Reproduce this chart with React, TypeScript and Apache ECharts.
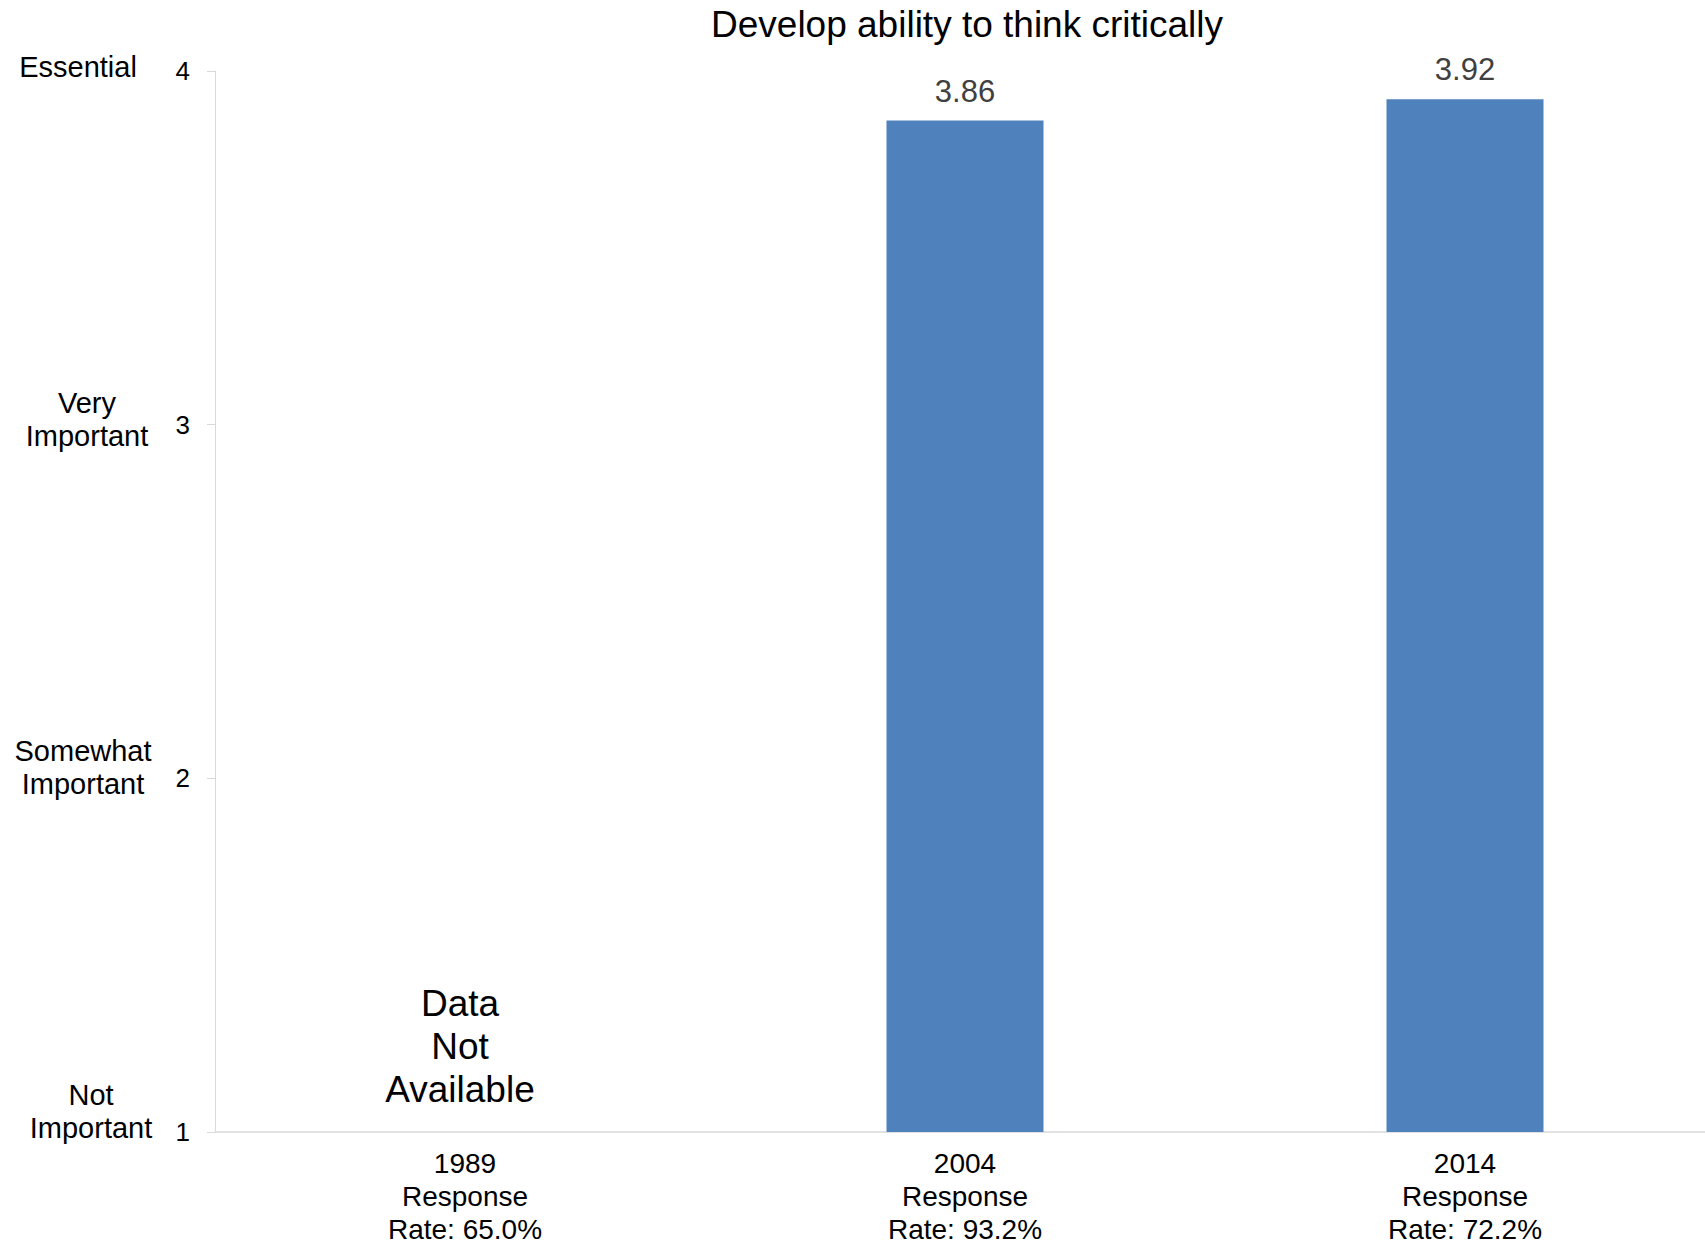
import React, { useEffect, useRef } from "react";
import * as echarts from "echarts";

// ---- data ----
const years = ["1989", "2004", "2014"];
const responseRates = ["65.0%", "93.2%", "72.2%"];
const meanScores: (number | null)[] = [null, 3.86, 3.92];
const scaleValues = [4, 3, 2, 1];
const scaleLabels = ["Essential", "Very\nImportant", "Somewhat\nImportant", "Not\nImportant"];
const missingYearIndex = 0;
const missingText = "Data\nNot\nAvailable";
const chartTitle = "Develop ability to think critically";

// ---- styles ----
const FONT = "'Liberation Sans', Arial, sans-serif";
const sideLabelX = [78, 87, 83, 91];
const sideLabelDy = [-4, -5, -11, -21];

export default function App() {
  const ref = useRef<HTMLDivElement>(null);
  useEffect(() => {
    if (!ref.current) return;
    const chart = echarts.init(ref.current, undefined, { renderer: "svg" });
    const categories = years.map((y, i) => `${y}\nResponse\nRate: ${responseRates[i]}`);
    chart.setOption({
      animation: false,
      backgroundColor: "#ffffff",
      title: {
        text: chartTitle,
        left: 706,
        top: 1,
        textStyle: { fontFamily: FONT, fontSize: 37, fontWeight: "normal", color: "#000000" },
      },
      grid: { left: 215, right: 5, top: 71, bottom: 114, containLabel: false },
      xAxis: {
        type: "category",
        data: categories,
        boundaryGap: true,
        axisLine: { show: true, lineStyle: { color: "#d9d9d9", width: 1.5 } },
        axisTick: { show: false },
        axisLabel: {
          fontFamily: FONT,
          fontSize: 28,
          lineHeight: 33,
          color: "#000000",
          margin: 15,
          interval: 0,
        },
        splitLine: { show: false },
      },
      yAxis: {
        type: "value",
        min: 1,
        max: 4,
        interval: 1,
        axisLine: { show: true, lineStyle: { color: "#d9d9d9", width: 1 } },
        axisTick: { show: true, length: 8, lineStyle: { color: "#d9d9d9" } },
        axisLabel: { fontFamily: FONT, fontSize: 26, color: "#000000", margin: 25 },
        splitLine: { show: false },
      },
      series: [
        {
          type: "bar",
          data: meanScores,
          barWidth: 157,
          itemStyle: { color: "#4f81bd" },
          label: {
            show: true,
            position: "top",
            distance: 14,
            fontFamily: FONT,
            fontSize: 31,
            color: "#404040",
            formatter: (p: any) => (p.value == null ? "" : Number(p.value).toFixed(2)),
          },
        },
        {
          type: "scatter",
          data: [[missingYearIndex, 1]],
          symbolSize: 0,
          silent: true,
          itemStyle: { opacity: 1, color: "#000000" },
          label: {
            show: true,
            position: "top",
            distance: 21,
            offset: [-5, 0],
            formatter: missingText,
            fontFamily: FONT,
            fontSize: 37,
            lineHeight: 43,
            color: "#000000",
            opacity: 1,
            align: "center",
          },
        },
      ],
    });
    const ys = scaleValues.map((v) => chart.convertToPixel({ yAxisIndex: 0 }, v) as number);
    chart.setOption({
      graphic: scaleLabels.map((t, i) => ({
        type: "text",
        x: sideLabelX[i],
        y: ys[i] + sideLabelDy[i],
        style: {
          text: t,
          fontFamily: FONT,
          fontSize: 29,
          lineHeight: 33,
          fill: "#000000",
          align: "center",
          verticalAlign: "middle",
        },
      })),
    });
    return () => chart.dispose();
  }, []);
  return (
    <div
      style={{
        position: "fixed",
        left: 0,
        top: 0,
        width: 1705,
        height: 1246,
        overflow: "hidden",
        background: "#fff",
      }}
    >
      <div ref={ref} style={{ width: 1720, height: 1246 }} />
    </div>
  );
}
